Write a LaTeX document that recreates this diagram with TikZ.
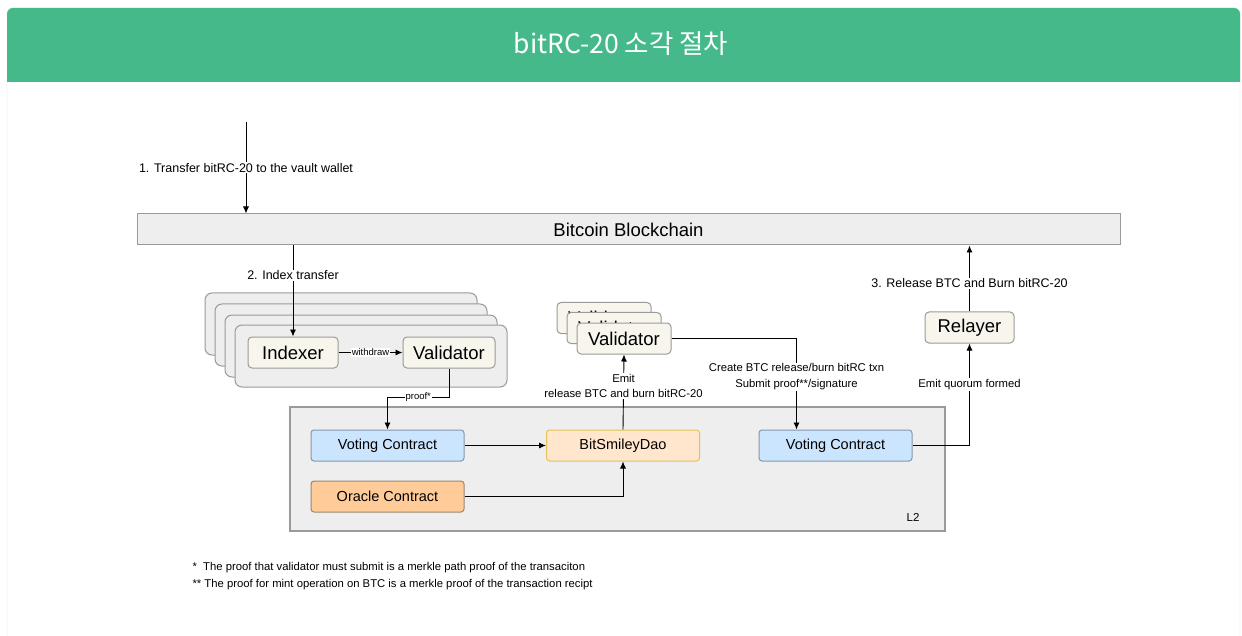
\documentclass[tikz,border=0pt]{standalone}
\usepackage{fontspec}
\setmainfont{Liberation Sans}
\newfontfamily\krfont{Noto Sans CJK KR}
\usetikzlibrary{arrows.meta}

\definecolor{headgreen}{HTML}{46B98A}
\definecolor{cardline}{HTML}{CFE3D8}
\definecolor{panelgray}{HTML}{EEEEEE}
\definecolor{linegray}{HTML}{9A9A9A}
\definecolor{cream}{HTML}{F8F6EC}
\definecolor{voteblue}{HTML}{CCE5FF}
\definecolor{voteline}{HTML}{8496AD}
\definecolor{daofill}{HTML}{FFE6CC}
\definecolor{daoline}{HTML}{E3C25C}
\definecolor{oraclefill}{HTML}{FFCC99}
\definecolor{oracleline}{HTML}{9A8670}

\begin{document}
\begin{tikzpicture}[
        x=1pt, y=-1pt,
        boxnode/.style={
            draw=linegray, line width=1pt, rounded corners=3pt, minimum width=153pt, minimum height=31pt,
            font=\fontsize{14.5}{17}\selectfont
        },
        actor/.style={
            draw=linegray, line width=1pt, fill=cream, rounded corners=4pt, minimum height=31pt,
            font=\fontsize{18.5}{21}\selectfont
        },
        panel/.style={
            draw=linegray, line width=1pt, fill=panelgray, rounded corners=7pt,
            minimum width=272pt, minimum height=62pt
        },
        lbl/.style={
            fill=white, inner sep=1pt, align=center, font=\fontsize{12.5}{15}\selectfont
        },
        arr/.style={
            -{Latex[length=7pt,width=6pt]}, line width=0.9pt
        }
    ]
    \useasboundingbox (0,0) rectangle (1242,636);

    % card and header
    \draw[cardline, fill=white] (7,660) -- (7,14) arc[start angle=180, end angle=270, radius=6]
        -- (1234,8) arc[start angle=270, end angle=360, radius=6] -- (1240,660);
    \fill[headgreen] (7,82) -- (7,14) arc[start angle=180, end angle=270, radius=6]
        -- (1234,8) arc[start angle=270, end angle=360, radius=6] -- (1240,82) -- cycle;
    \node[text=white, font=\krfont\fontsize{26.5}{30}\selectfont] (title) at (621,44) {bitRC-20 소각 절차};

    % chain
    \node[draw=linegray, line width=1pt, fill=panelgray, minimum width=983pt, minimum height=31pt,
        font=\fontsize{18.5}{21}\selectfont] (chain) at (628.5,229.5) {Bitcoin Blockchain};
    \coordinate (start) at (246,122);

    % indexer stack
    \node[panel] (p1) at (341,324) {};
    \node[panel] (p2) at (351,335) {};
    \node[panel] (p3) at (361,346) {};
    \node[panel] (p4) at (371,356) {};
    \node[actor, minimum width=90pt] (indexer) at (293,352.5) {Indexer};
    \node[actor, minimum width=92pt] (val1) at (449,352.5) {Validator};

    % validator stack
    \node[actor, minimum width=94pt] (valb) at (604,318) {Validator};
    \node[actor, minimum width=94pt] (vala) at (614,328) {Validator};
    \node[actor, minimum width=94pt] (valc) at (624,338.5) {Validator};

    \node[actor, minimum width=89pt] (relayer) at (969.5,327.5) {Relayer};

    % L2
    \node[draw=linegray, line width=1.3pt, fill=panelgray, minimum width=655pt, minimum height=124pt] (ltwo) at (617.5,469) {};
    \node[font=\fontsize{11.5}{13}\selectfont] (ltwolbl) at (913,517) {L2};
    \node[boxnode, fill=voteblue, draw=voteline] (vote1) at (387.5,445.5) {Voting Contract};
    \node[boxnode, fill=daofill, draw=daoline] (dao) at (623,445.5) {BitSmileyDao};
    \node[boxnode, fill=oraclefill, draw=oracleline] (oracle) at (387.5,496.5) {Oracle Contract};
    \node[boxnode, fill=voteblue, draw=voteline] (vote2) at (835.5,445.5) {Voting Contract};

    % connectors
    \draw[arr] (start) -- node[lbl] {1. Transfer bitRC-20 to the vault wallet} (start |- chain.north);
    \draw[arr] (indexer.north |- chain.south) -- node[lbl, pos=0.33] {2. Index transfer} (indexer.north);
    \draw[arr] (indexer) -- node[lbl, font=\fontsize{9.5}{11}\selectfont] {withdraw} (val1);
    \draw[arr] (val1.south) -- ++(0,29) -| node[lbl, pos=0.25, font=\fontsize{9.5}{11}\selectfont] {proof*} (vote1.north);
    \draw[arr] (vote1) -- (dao);
    \draw[arr] (oracle.east) -| (dao.south);
    \draw[arr] (dao.north) -- node[lbl, pos=0.58, font=\fontsize{11.3}{15.5}\selectfont] {Emit\\release BTC and burn bitRC-20} (valc.south);
    \draw[arr] (valc.east) -| node[lbl, pos=0.71, font=\fontsize{11.3}{15.5}\selectfont] {Create BTC release/burn bitRC txn\\Submit proof**/signature} ([xshift=38pt]vote2.north west);
    \draw[arr] (vote2.east) -| node[lbl, pos=0.8, font=\fontsize{11.3}{13}\selectfont] {Emit quorum formed} (relayer.south);
    \draw[arr] (relayer.north) -- node[lbl, pos=0.43] {3. Release BTC and Burn bitRC-20} (relayer.north |- chain.south);

    % notes
    \node[anchor=west, font=\fontsize{11.3}{13}\selectfont] (note1) at (189,568) {*\ \ The proof that validator must submit is a merkle path proof of the transaciton};
    \node[anchor=west, font=\fontsize{11.3}{13}\selectfont] (note2) at (189,585) {** The proof for mint operation on BTC is a merkle proof of the transaction recipt};
\end{tikzpicture}
\end{document}
